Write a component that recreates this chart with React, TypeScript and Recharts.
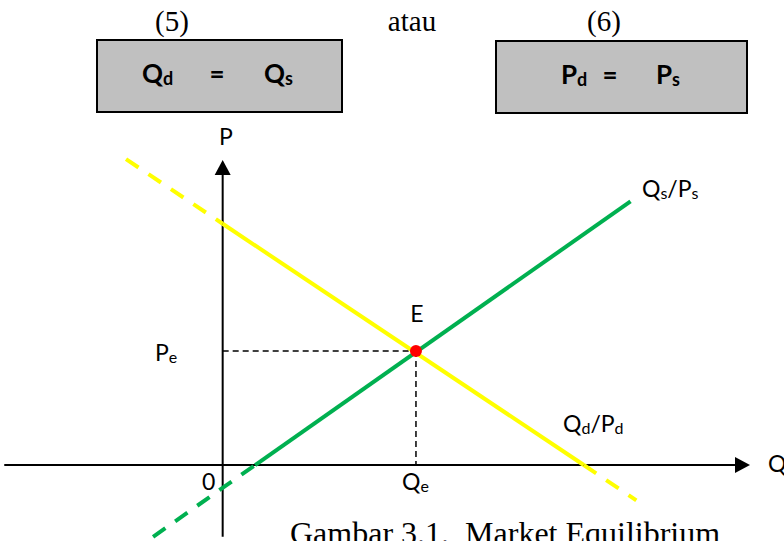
import { ComposedChart, Line, XAxis, YAxis, ReferenceLine, ReferenceDot } from 'recharts';

// demand curve Qd/Pd (quantity, price)
const demandQ = [-2.5, 0, 9.34, 10.7];
const demandP = [8.05, 6.35, 0, -0.93];
// supply curve Qs/Ps
const supplyQ = [-1.8, 0.84, 10.55];
const supplyP = [-1.89, 0, 6.94];
// equilibrium point E
const equilibriumQ = 5;
const equilibriumP = 3;
// axis extents
const qAxisRange = [-5.65, 13.64];
const pAxisRange = [-1.89, 8.03];

const toPoints = (qs: number[], ps: number[]) => qs.map((q, i) => ({ q, p: ps[i] }));
const demand = toPoints(demandQ, demandP);
const supply = toPoints(supplyQ, supplyP);

const W = 784;
const H = 541;
const SANS = 'Lato, "Open Sans", sans-serif';
const SERIF = '"Liberation Serif", "Times New Roman", serif';
const YELLOW = '#ffff00';
const GREEN = '#00b050';

const ArrowLine = (props: any) => {
  const { x1, y1, x2, y2 } = props;
  const dx = x2 - x1;
  const dy = y2 - y1;
  const len = Math.hypot(dx, dy) || 1;
  const ux = dx / len;
  const uy = dy / len;
  const head = 15;
  const half = 8;
  const bx = x2 - ux * head;
  const by = y2 - uy * head;
  return (
    <g>
      <line x1={x1} y1={y1} x2={bx} y2={by} stroke="#000" strokeWidth={2} />
      <polygon
        points={`${x2},${y2} ${bx - uy * half},${by + ux * half} ${bx + uy * half},${by - ux * half}`}
        fill="#000"
      />
    </g>
  );
};

const Sub = ({ children, size = 16, dy = 2 }: any) => (
  <tspan fontSize={size} dy={dy}>
    {children}
  </tspan>
);

export default function App() {
  const segLine = (data: any[], color: string, dashed: boolean, key: string) => (
    <Line
      key={key}
      data={data}
      dataKey="p"
      type="linear"
      stroke={color}
      strokeWidth={4}
      strokeDasharray={dashed ? '15 12' : undefined}
      dot={false}
      activeDot={false}
      isAnimationActive={false}
    />
  );

  return (
    <div style={{ position: 'absolute', left: 0, top: 0, width: W, height: H, background: '#fff' }}>
      <ComposedChart width={W} height={H} margin={{ top: 0, right: 0, bottom: 0, left: 0 }}>
        <XAxis type="number" dataKey="q" domain={[-5.76, 14.52]} allowDataOverflow hide />
        <YAxis type="number" dataKey="p" domain={[-2.0, 12.24]} allowDataOverflow hide />
        <ReferenceLine
          segment={[{ x: qAxisRange[0], y: 0 }, { x: qAxisRange[1], y: 0 }]}
          ifOverflow="visible"
          shape={ArrowLine}
        />
        <ReferenceLine
          segment={[{ x: 0, y: pAxisRange[0] }, { x: 0, y: pAxisRange[1] }]}
          ifOverflow="visible"
          shape={ArrowLine}
        />
        <ReferenceLine
          segment={[{ x: 0, y: equilibriumP }, { x: equilibriumQ, y: equilibriumP }]}
          stroke="#000"
          strokeWidth={1.5}
          strokeDasharray="6 4"
          ifOverflow="visible"
        />
        <ReferenceLine
          segment={[{ x: equilibriumQ, y: equilibriumP }, { x: equilibriumQ, y: 0 }]}
          stroke="#000"
          strokeWidth={1.5}
          strokeDasharray="6 4"
          ifOverflow="visible"
        />
        {segLine(demand.slice(0, 2), YELLOW, true, 'd1')}
        {segLine(demand.slice(1, 3), YELLOW, false, 'd2')}
        {segLine(demand.slice(2, 4), YELLOW, true, 'd3')}
        {segLine(supply.slice(0, 2), GREEN, true, 's1')}
        {segLine(supply.slice(1, 3), GREEN, false, 's2')}
        <ReferenceDot x={equilibriumQ} y={equilibriumP} r={6} fill="#ff0000" stroke="none" ifOverflow="visible" />
      </ComposedChart>

      <svg
        width={W}
        height={H}
        style={{ position: 'absolute', left: 0, top: 0, pointerEvents: 'none' }}
      >
        <g fontFamily={SERIF} fontSize={29} fill="#000" textAnchor="middle">
          <text x={172} y={31}>(5)</text>
          <text x={412} y={31}>atau</text>
          <text x={604} y={31}>(6)</text>
        </g>

        <rect x={97} y={40} width={245} height={72} fill="#c0c0c0" stroke="#000" strokeWidth={2} />
        <rect x={496} y={41} width={251} height={72} fill="#c0c0c0" stroke="#000" strokeWidth={2} />
        <g fontFamily={SANS} fontSize={26} fontWeight="bold" fill="#000">
          <text x={142} y={83}>
            Q<Sub size={18}>d</Sub>
          </text>
          <text x={217} y={83} textAnchor="middle">=</text>
          <text x={264} y={83}>
            Q<Sub size={18}>s</Sub>
          </text>
          <text x={561} y={84}>
            P<Sub size={18}>d</Sub>
          </text>
          <text x={610} y={84} textAnchor="middle">=</text>
          <text x={656} y={84}>
            P<Sub size={18}>s</Sub>
          </text>
        </g>

        <g fontFamily={SANS} fontSize={23} fill="#000">
          <text x={226} y={145} textAnchor="middle">P</text>
          <text x={417} y={322} textAnchor="middle">E</text>
          <text x={155} y={361}>
            P<Sub>e</Sub>
          </text>
          <text x={402} y={490}>
            Q<Sub>e</Sub>
          </text>
          <text x={202} y={490}>0</text>
          <text x={642} y={197}>
            Q<Sub>s</Sub>
            <tspan dy={-2} fontSize={23}>/P</tspan>
            <Sub>s</Sub>
          </text>
          <text x={563} y={432}>
            Q<Sub>d</Sub>
            <tspan dy={-2} fontSize={23}>/P</tspan>
            <Sub>d</Sub>
          </text>
          <text x={768} y={472}>Q</text>
        </g>

        <text x={290} y={544} fontFamily={SERIF} fontSize={32} fill="#000" style={{ whiteSpace: 'pre' }}>
          Gambar 3.1.  Market Equilibrium
        </text>
      </svg>
    </div>
  );
}
